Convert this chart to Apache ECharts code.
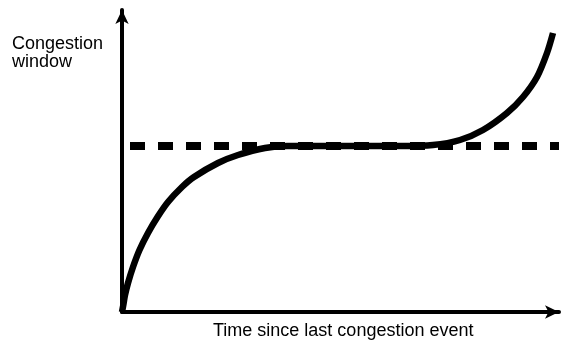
<!DOCTYPE html>
<html>
<head>
<meta charset="utf-8">
<script src="https://cdn.jsdelivr.net/npm/echarts@6/dist/echarts.min.js"></script>
<style>html,body{margin:0;padding:0;background:#fff}#c{width:561px;height:343px}</style>
</head>
<body>
<div id="c"></div>
<script>
// Curve (x = time units, y = window units)
const curveX = [0, 1.5, 3, 6, 11, 17.5, 26, 35.5, 46, 60, 72, 96, 116, 143, 165, 200, 250, 278, 311, 338, 361, 385, 401, 415, 425, 431];
const curveY = [0, 8, 17, 29, 45, 62, 79, 95, 110, 125, 135, 149, 157, 164, 166, 166, 166, 166, 167, 172, 182, 199, 215, 235, 259, 279];
// Dashed reference level (Wmax)
const wmaxX = [8, 437];
const wmaxY = [166, 166];
const yAxisTitle = ['Congestion', 'window'];
const xAxisTitle = 'Time since last congestion event';

const chart = echarts.init(document.getElementById('c'));
const font = '"Liberation Sans", Arial, Helvetica, sans-serif';
chart.setOption({
  animation: false,
  grid: { left: 122, right: 2, top: 10, bottom: 31 },
  xAxis: {
    type: 'value', min: 0, max: 437,
    splitLine: { show: false }, axisTick: { show: false }, axisLabel: { show: false },
    axisLine: { show: true, lineStyle: { color: '#000', width: 4 }, symbol: ['none', 'arrow'], symbolSize: [10, 14] }
  },
  yAxis: {
    type: 'value', min: 0, max: 302,
    splitLine: { show: false }, axisTick: { show: false }, axisLabel: { show: false },
    axisLine: { show: true, lineStyle: { color: '#000', width: 4 }, symbol: ['none', 'arrow'], symbolSize: [10, 14] }
  },
  series: [
    {
      type: 'line', data: wmaxX.map((x, i) => [x, wmaxY[i]]),
      showSymbol: false, clip: false,
      lineStyle: { color: '#000', width: 8, type: [15, 13], cap: 'butt' }
    },
    {
      type: 'line', data: curveX.map((x, i) => [x, curveY[i]]),
      showSymbol: false, smooth: 0.3, clip: false,
      lineStyle: { color: '#000', width: 6.5, cap: 'butt', join: 'round' }
    }
  ],
  graphic: [
    { type: 'text', left: 12, top: 35, style: { text: yAxisTitle[0], font: '18px ' + font, fill: '#000' } },
    { type: 'text', left: 12, top: 53, style: { text: yAxisTitle[1], font: '18px ' + font, fill: '#000' } },
    { type: 'text', left: 213, top: 322, style: { text: xAxisTitle, font: '18px ' + font, fill: '#000' } }
  ]
});
</script>
</body>
</html>
